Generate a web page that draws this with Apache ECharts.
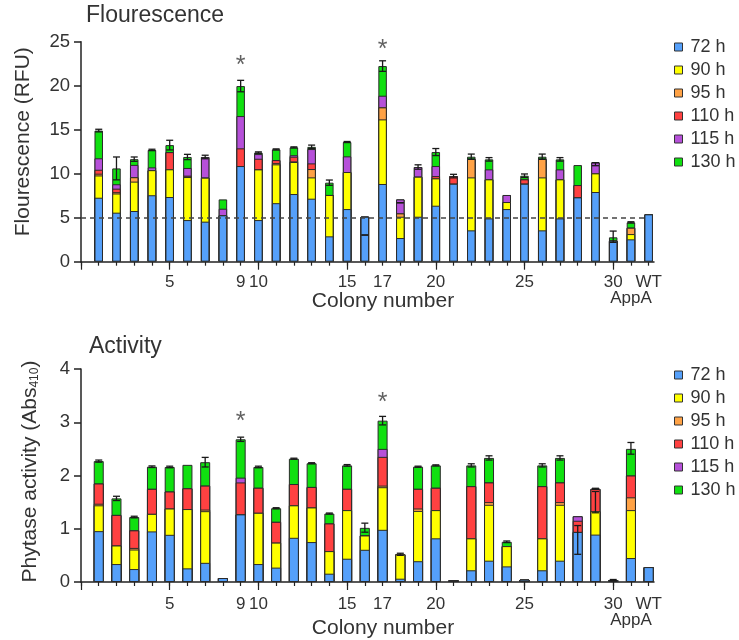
<!DOCTYPE html>
<html><head><meta charset="utf-8">
<script src="https://cdn.jsdelivr.net/npm/echarts@6/dist/echarts.min.js"></script>
<style>html,body{margin:0;padding:0;background:#fff}#c{width:739px;height:640px}</style>
</head><body><div id="c"></div>
<script>
// ---------- data ----------
const colonies = ['1','2','3','4','5','6','7','8','9','10','11','12','13','14','15','16','17','18','19','20','21','22','23','24','25','26','27','28','29','30','AppA','WT'];
const shownLabels = ['5','9','10','15','17','20','25','30','WT'];
const lowerLabels = ['AppA'];
const timePoints = ['72 h','90 h','95 h','110 h','115 h','130 h'];

// Flourescence (RFU) level reached at each time point
const fl72  = [7.27,5.57,5.76,7.55,7.35,4.73,4.55,5.27,10.87,4.73,6.65,7.69,7.16,2.88,5.98,5.11,8.83,2.69,5.11,6.36,8.86,3.56,4.92,5.98,8.86,3.56,4.92,7.31,7.92,2.39,2.54,5.38];
const fl90  = [9.8,7.75,9.1,10.4,10.5,9.62,9.55,5.27,10.87,10.49,11.06,11.33,9.58,7.58,10.19,5.11,16.17,5.11,9.66,9.47,8.86,9.58,9.36,6.78,8.86,9.58,9.36,7.31,10.04,2.39,3.14,5.38];
const fl95  = [10.0,7.9,9.6,10.4,10.5,9.7,9.55,5.27,10.87,10.49,11.2,11.4,10.53,7.58,10.19,5.11,17.54,5.49,9.66,9.47,8.86,11.7,9.36,6.78,8.86,11.7,9.36,7.31,10.04,2.39,3.86,5.38];
const fl110 = [10.45,8.3,9.6,10.4,12.45,9.78,9.55,5.27,12.88,11.7,11.55,11.93,11.17,7.58,10.19,5.11,17.54,5.49,9.66,9.73,9.73,11.7,9.36,6.78,9.36,11.7,9.36,8.71,10.04,2.39,3.86,5.38];
const fl115 = [11.75,8.8,11.0,10.72,12.45,10.65,11.9,6.02,16.55,12.23,11.55,12.1,12.8,7.58,11.97,5.11,18.86,7.08,10.76,10.87,9.73,11.7,10.49,7.58,9.36,11.7,10.49,8.71,11.29,2.39,3.86,5.38];
const fl130 = [14.9,10.6,11.65,12.7,13.25,11.9,11.9,7.08,19.96,12.4,12.76,12.99,13.05,8.98,13.6,5.11,22.23,7.08,10.76,12.46,9.73,11.93,11.63,7.58,9.77,11.93,11.63,10.98,11.29,2.77,4.47,5.38];
// error bars: [colony position, centre, half-range]
const flErr = [[1,14.9,0.15],[2,10.6,1.3],[3,11.65,0.25],[4,12.7,0.08],[5,13.25,0.55],[6,11.9,0.3],[7,11.9,0.2],[9,19.96,0.65],[10,12.4,0.08],[11,12.76,0.06],[12,12.99,0.06],[13,13.05,0.2],[14,8.98,0.3],[15,13.6,0.06],[16,3.03,0],[17,22.23,0.6],[18,6.7,0],[19,10.76,0.25],[20,12.46,0.4],[21,9.73,0.2],[22,11.93,0.3],[23,11.63,0.2],[25,9.77,0.2],[26,11.93,0.3],[27,11.63,0.2],[29,11.08,0.17],[30,2.84,0.64],[31,4.47,0.07]];
const flThreshold = 5;

// Phytase activity (Abs410) level reached at each time point
const a72  = [0.955,0.337,0.243,0.95,0.886,0.256,0.36,0.075,1.27,0.337,0.27,0.83,0.75,0.156,0.437,0.605,0.98,0.062,0.39,0.82,0.037,0.22,0.40,0.293,0.044,0.22,0.40,0.94,0.89,0.037,0.45,0.28];
const a90  = [1.44,0.686,0.61,1.28,1.38,1.37,1.33,0.075,1.27,1.30,0.74,1.44,1.40,0.58,1.35,0.874,1.78,0.52,1.335,1.35,0.037,0.82,1.45,0.674,0.044,0.82,1.45,0.94,1.33,0.037,1.35,0.28];
const a95  = [1.47,0.686,0.64,1.28,1.38,1.37,1.36,0.075,1.27,1.30,0.74,1.44,1.40,0.58,1.35,0.874,1.81,0.52,1.38,1.35,0.037,0.82,1.50,0.674,0.044,0.82,1.50,0.94,1.33,0.037,1.59,0.28];
const a110 = [1.85,1.26,0.97,1.75,1.70,1.76,1.81,0.075,1.87,1.77,1.13,1.84,1.785,1.10,1.75,0.874,2.35,0.52,1.75,1.77,0.037,1.80,1.87,0.674,0.044,1.80,1.87,1.15,1.75,0.037,2.00,0.28];
const a115 = [1.85,1.26,0.97,1.75,1.70,1.76,1.81,0.075,1.96,1.77,1.13,1.84,1.785,1.10,1.75,0.874,2.50,0.52,1.75,1.77,0.037,1.80,1.87,0.674,0.044,1.80,1.87,1.235,1.75,0.037,2.00,0.28];
const a130 = [2.27,1.57,1.22,2.165,2.16,2.20,2.25,0.075,2.68,2.16,1.385,2.315,2.23,1.285,2.19,1.017,3.03,0.52,2.165,2.19,0.037,2.19,2.33,0.755,0.044,2.19,2.33,1.235,1.75,0.037,2.50,0.28];
const aErr = [[1,2.27,0.02],[2,1.57,0.04],[3,1.22,0.015],[4,2.165,0.015],[5,2.16,0.015],[7,2.25,0.09],[9,2.68,0.04],[10,2.16,0.015],[11,1.385,0.01],[12,2.315,0.01],[13,2.23,0.01],[14,1.285,0.01],[15,2.19,0.015],[16,1.02,0.085],[17,3.03,0.08],[18,0.52,0.02],[19,2.165,0.01],[20,2.19,0.01],[22,2.19,0.03],[23,2.33,0.04],[24,0.755,0.015],[26,2.19,0.03],[27,2.33,0.04],[28,0.79,0.27],[29,1.5,0.2],[29,1.75,0.01],[30,0.037,0.01],[31,2.51,0.11]];

// significance stars
const starCols = ['9','17'];
const starFl = [22.2, 24.0];
const starAct = [3.0, 3.36];

// ---------- styling ----------
const FONT = '"Liberation Sans", Arial, Helvetica, sans-serif';
const TXT = '#333';
const AX = '#222';
const colors = ['#55a0fa','#ffff00','#ffa245','#ff4141','#b650d9','#10e010'];
const flSeries = [fl72, fl90, fl95, fl110, fl115, fl130];
const aSeries = [a72, a90, a95, a110, a115, a130];
const XMAX = 32.3;
const pos = c => colonies.indexOf(c) + 1;
const allPos = [0].concat(colonies.map(pos));
const majorPos = [0,5,10,15,20,25,30];
const labelPos = shownLabels.map(pos);
const lowerPos = lowerLabels.map(pos);
const colName = v => colonies[Math.round(v) - 1] || '';

function xAxes(g, margin, nameGap){
  return [{
    gridIndex: g, type: 'value', position: 'bottom', min: 0, max: XMAX,
    name: 'Colony number', nameLocation: 'middle', nameGap: nameGap, nameMoveOverlap: false,
    nameTextStyle: {fontSize: 21, color: TXT, fontFamily: FONT, padding: [0,0,0,31]},
    axisLine: {show: true, onZero: false, lineStyle: {color: AX, width: 1.5}},
    axisTick: {show: true, customValues: allPos, length: 4, lineStyle: {color: AX, width: 1.2}},
    axisLabel: {show: true, customValues: labelPos, formatter: colName, fontSize: 17,
      color: TXT, fontFamily: FONT, margin: margin, hideOverlap: false},
    splitLine: {show: false}
  },{
    gridIndex: g, type: 'value', position: 'bottom', min: 0, max: XMAX,
    axisLine: {show: false},
    axisTick: {show: true, customValues: majorPos, length: 8, lineStyle: {color: AX, width: 1.2}},
    axisLabel: {show: true, customValues: lowerPos, formatter: colName, fontSize: 17,
      color: TXT, fontFamily: FONT, margin: margin + 16, hideOverlap: false},
    splitLine: {show: false}
  }];
}

function yAxis(g, max, interval, name, nameGap, shift){
  return {
    gridIndex: g, type: 'value', min: 0, max: max, interval: interval,
    name: name, nameLocation: 'middle', nameGap: nameGap, nameMoveOverlap: false,
    nameTextStyle: {fontSize: 21, color: TXT, fontFamily: FONT, padding: [0,0,0,shift],
      rich: {sub: {fontSize: 12, color: TXT, fontFamily: FONT, padding: [10,0,0,0]}}},
    axisLine: {show: true, lineStyle: {color: AX, width: 1.5}},
    axisTick: {show: true, length: 7, lineStyle: {color: AX, width: 1.5}},
    axisLabel: {fontSize: 18.5, color: TXT, fontFamily: FONT, margin: 11},
    splitLine: {show: false}
  };
}

function errRender(params, api){
  const x = api.value(0), m = api.value(1), e = api.value(2);
  const hi = api.coord([x, m + e]), lo = api.coord([x, m - e]);
  const w = 3.5;
  const style = {stroke: '#1a1a1a', lineWidth: 1.3};
  return {type: 'group', children: [
    {type: 'line', shape: {x1: hi[0], y1: hi[1], x2: lo[0], y2: lo[1]}, style: style},
    {type: 'line', shape: {x1: hi[0]-w, y1: hi[1], x2: hi[0]+w, y2: hi[1]}, style: style},
    {type: 'line', shape: {x1: lo[0]-w, y1: lo[1], x2: lo[0]+w, y2: lo[1]}, style: style}
  ]};
}

function panelSeries(g, levels, errs, starVals, barWidth, threshold){
  const out = [];
  for (let k = timePoints.length - 1; k >= 0; k--) {
    out.push({
      type: 'bar', name: timePoints[k], xAxisIndex: 2*g, yAxisIndex: g,
      data: colonies.map((c, i) => [pos(c), levels[k][i]]),
      barWidth: barWidth, barGap: '-100%',
      itemStyle: {color: colors[k], borderColor: '#2a2a2a', borderWidth: 1},
      emphasis: {disabled: true}, animation: false
    });
  }
  out.push({
    type: 'custom', xAxisIndex: 2*g, yAxisIndex: g, z: 10,
    renderItem: errRender, data: errs, animation: false, silent: true
  });
  const star = {
    type: 'scatter', xAxisIndex: 2*g, yAxisIndex: g, z: 11, symbolSize: 2,
    itemStyle: {color: 'rgba(0,0,0,0)'}, silent: true, animation: false,
    data: starCols.map((c, i) => [pos(c), starVals[i]]),
    label: {show: true, formatter: '*', position: 'inside', fontSize: 25, color: '#3a3a3a', fontFamily: FONT}
  };
  if (threshold != null) {
    star.markLine = {
      silent: true, symbol: ['none','none'], animation: false,
      label: {show: false},
      lineStyle: {type: [5,4], color: '#444', width: 1.5},
      data: [[{coord: [0, threshold]}, {coord: [31.75, threshold]}]]
    };
  }
  out.push(star);
  return out;
}

function legend(top){
  return {
    orient: 'vertical', left: 674, top: top, padding: 0,
    data: timePoints, icon: 'rect', itemWidth: 8, itemHeight: 8, itemGap: 5,
    itemStyle: {borderColor: '#333', borderWidth: 1},
    textStyle: {fontSize: 18, lineHeight: 18, color: TXT, fontFamily: FONT, padding: [0,0,0,3]},
    selectedMode: false
  };
}

const option = {
  animation: false,
  backgroundColor: '#fff',
  textStyle: {fontFamily: FONT},
  title: [
    {text: 'Flourescence', left: 86, top: 4, padding: 0, textStyle: {fontSize: 23, fontWeight: 'normal', color: TXT, fontFamily: FONT}},
    {text: 'Activity', left: 89, top: 335, padding: 0, textStyle: {fontSize: 23, fontWeight: 'normal', color: TXT, fontFamily: FONT}}
  ],
  legend: [legend(38), legend(366)],
  grid: [
    {left: 81, top: 41.7, width: 573, height: 220},
    {left: 81, top: 369, width: 573, height: 213.7}
  ],
  xAxis: xAxes(0, 12, 29).concat(xAxes(1, 14, 36)),
  yAxis: [
    yAxis(0, 25, 5, 'Flourescence (RFU)', 47, 20),
    yAxis(1, 4, 1, 'Phytase activity (Abs{sub|410})', 40, 8)
  ],
  series: panelSeries(0, flSeries, flErr, starFl, 8.5, flThreshold)
    .concat(panelSeries(1, aSeries, aErr, starAct, 10, null))
};

const chart = echarts.init(document.getElementById('c'), null, {renderer: 'canvas'});
chart.setOption(option);
</script></body></html>
